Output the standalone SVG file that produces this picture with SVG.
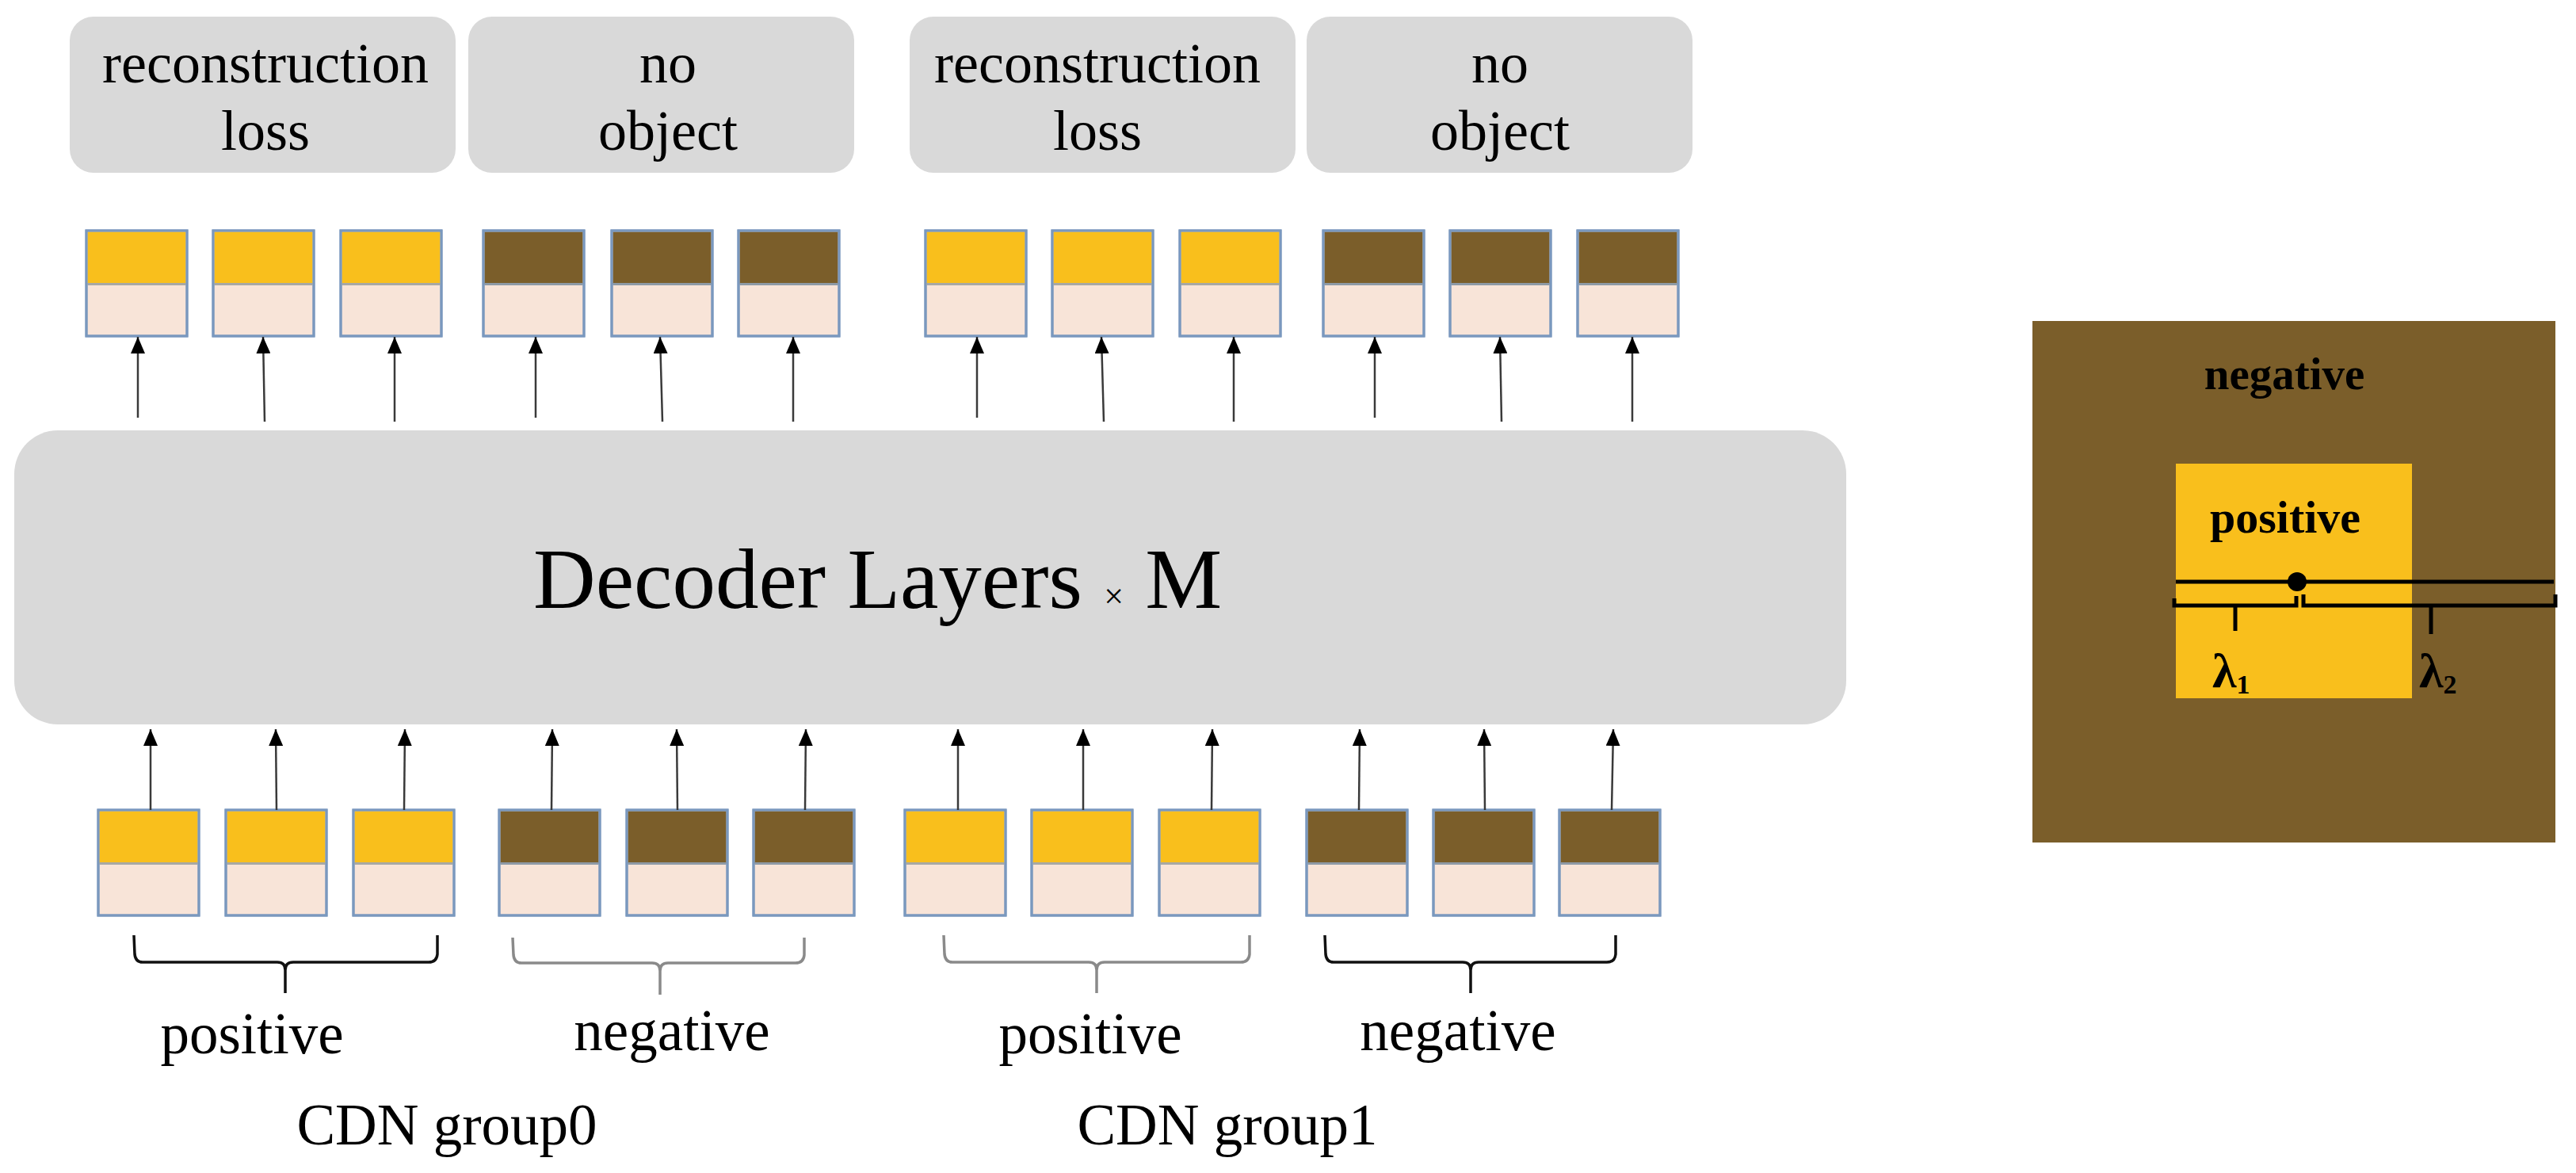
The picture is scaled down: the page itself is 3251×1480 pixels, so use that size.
<svg xmlns="http://www.w3.org/2000/svg" width="3251" height="1480" viewBox="0 0 3251 1480">
<style>
.box{fill:#D9D9D9;}
.t{font-family:"Liberation Serif","Times New Roman",serif;fill:#000;}
.lbl{font-size:72px;text-anchor:middle;}
.sub{font-size:73px;text-anchor:middle;}
.tok{stroke:#7A98BE;stroke-width:3;}
.yel{fill:#F9BF1C;}
.brn{fill:#7B5E2A;}
.pink{fill:#F8E4D8;}
.div{stroke:#A8A8A4;stroke-width:3;}
.arr{stroke:#3A3A3A;stroke-width:2.5;fill:none;marker-end:url(#ah);}
.brace{fill:none;stroke-width:3.5;stroke-linejoin:round;}
.bk{stroke:#111;}
.gy{stroke:#8A8A8A;}
.bold{font-weight:bold;}
</style>
<defs>
<marker id="ah" markerUnits="userSpaceOnUse" markerWidth="21" markerHeight="18" viewBox="0 0 21 18" refX="21" refY="9" orient="auto">
<path d="M0,0 L21,9 L0,18 z" fill="#000"/>
</marker>
<g id="tokY">
<rect x="0" y="0" width="127" height="133" class="pink tok"/>
<rect x="1.5" y="1.5" width="124" height="66" class="yel"/>
<line x1="1.5" y1="67.5" x2="125.5" y2="67.5" class="div"/>
<rect x="0" y="0" width="127" height="133" fill="none" class="tok"/>
</g>
<g id="tokB">
<rect x="0" y="0" width="127" height="133" class="pink tok"/>
<rect x="1.5" y="1.5" width="124" height="66" class="brn"/>
<line x1="1.5" y1="67.5" x2="125.5" y2="67.5" stroke="#8E9AA6" stroke-width="3"/>
<rect x="0" y="0" width="127" height="133" fill="none" class="tok"/>
</g>
</defs>
<rect width="3251" height="1480" fill="#FFFFFF"/>

<g id="loss0">
<rect x="88" y="21" width="487" height="197" rx="30" class="box"/>
<text class="t lbl" x="335" y="104">reconstruction</text>
<text class="t lbl" x="335" y="189">loss</text>
</g>
<g id="noobj0">
<rect x="591" y="21" width="487" height="197" rx="30" class="box"/>
<text class="t lbl" x="843" y="104">no</text>
<text class="t lbl" x="843" y="189">object</text>
</g>
<g id="loss1">
<rect x="1148" y="21" width="487" height="197" rx="30" class="box"/>
<text class="t lbl" x="1385" y="104">reconstruction</text>
<text class="t lbl" x="1385" y="189">loss</text>
</g>
<g id="noobj1">
<rect x="1649" y="21" width="487" height="197" rx="30" class="box"/>
<text class="t lbl" x="1893" y="104">no</text>
<text class="t lbl" x="1893" y="189">object</text>
</g>

<g id="out-tokens">
<use href="#tokY" x="109" y="291"/>
<use href="#tokY" x="269" y="291"/>
<use href="#tokY" x="430" y="291"/>
<use href="#tokB" x="610" y="291"/>
<use href="#tokB" x="772" y="291"/>
<use href="#tokB" x="932" y="291"/>
<use href="#tokY" x="1168" y="291"/>
<use href="#tokY" x="1328" y="291"/>
<use href="#tokY" x="1489" y="291"/>
<use href="#tokB" x="1670" y="291"/>
<use href="#tokB" x="1830" y="291"/>
<use href="#tokB" x="1991" y="291"/>
</g>

<g id="decoder">
<rect x="18" y="543" width="2312" height="371" rx="55" class="box"/>
<text class="t" x="673" y="767" font-size="109">Decoder Layers <tspan font-size="44">×</tspan> M</text>
</g>

<g id="in-tokens">
<use href="#tokY" x="124" y="1022"/>
<use href="#tokY" x="285" y="1022"/>
<use href="#tokY" x="446" y="1022"/>
<use href="#tokB" x="630" y="1022"/>
<use href="#tokB" x="791" y="1022"/>
<use href="#tokB" x="951" y="1022"/>
<use href="#tokY" x="1142" y="1022"/>
<use href="#tokY" x="1302" y="1022"/>
<use href="#tokY" x="1463" y="1022"/>
<use href="#tokB" x="1649" y="1022"/>
<use href="#tokB" x="1809" y="1022"/>
<use href="#tokB" x="1968" y="1022"/>
</g>

<g id="connectors">
<line class="arr" x1="174" y1="527" x2="174" y2="425"/>
<line class="arr" x1="334" y1="532" x2="332" y2="425"/>
<line class="arr" x1="498" y1="532" x2="498" y2="425"/>
<line class="arr" x1="676" y1="527" x2="676" y2="425"/>
<line class="arr" x1="836" y1="532" x2="833" y2="425"/>
<line class="arr" x1="1001" y1="532" x2="1001" y2="425"/>
<line class="arr" x1="1233" y1="527" x2="1233" y2="425"/>
<line class="arr" x1="1393" y1="532" x2="1390" y2="425"/>
<line class="arr" x1="1557" y1="532" x2="1557" y2="425"/>
<line class="arr" x1="1735" y1="527" x2="1735" y2="425"/>
<line class="arr" x1="1895" y1="532" x2="1893" y2="425"/>
<line class="arr" x1="2060" y1="532" x2="2060" y2="425"/>

<line class="arr" x1="190" y1="1022" x2="190" y2="920"/>
<line class="arr" x1="349" y1="1022" x2="348" y2="920"/>
<line class="arr" x1="510" y1="1022" x2="511" y2="920"/>
<line class="arr" x1="696" y1="1022" x2="697" y2="920"/>
<line class="arr" x1="855" y1="1022" x2="854" y2="920"/>
<line class="arr" x1="1016" y1="1022" x2="1017" y2="920"/>
<line class="arr" x1="1209" y1="1022" x2="1209" y2="920"/>
<line class="arr" x1="1367" y1="1022" x2="1367" y2="920"/>
<line class="arr" x1="1529" y1="1022" x2="1530" y2="920"/>
<line class="arr" x1="1715" y1="1022" x2="1716" y2="920"/>
<line class="arr" x1="1874" y1="1022" x2="1873" y2="920"/>
<line class="arr" x1="2034" y1="1022" x2="2036" y2="920"/>
</g>

<g id="braces">
<path class="brace bk" d="M169,1180 L170,1204 Q171,1214 180,1214 L350,1214 Q360,1214 360,1224 L360,1253 M360,1224 Q360,1214 370,1214 L541,1214 Q551,1214 552,1204 L552,1180"/>
<path class="brace gy" d="M647,1183 L648,1205 Q649,1215 658,1215 L823,1215 Q833,1215 833,1225 L833,1255 M833,1225 Q833,1215 843,1215 L1004,1215 Q1014,1215 1015,1205 L1015,1183"/>
<path class="brace gy" d="M1191,1180 L1192,1204 Q1193,1214 1202,1214 L1374,1214 Q1384,1214 1384,1224 L1384,1253 M1384,1224 Q1384,1214 1394,1214 L1566,1214 Q1576,1214 1577,1204 L1577,1180"/>
<path class="brace bk" d="M1672,1180 L1673,1204 Q1674,1214 1683,1214 L1846,1214 Q1856,1214 1856,1224 L1856,1253 M1856,1224 Q1856,1214 1866,1214 L2028,1214 Q2038,1214 2039,1204 L2039,1180"/>
</g>

<g id="labels">
<text class="t sub" x="318" y="1329">positive</text>
<text class="t sub" x="848" y="1325">negative</text>
<text class="t sub" x="1376" y="1329">positive</text>
<text class="t sub" x="1840" y="1325">negative</text>
<text class="t sub" x="564" y="1444">CDN group0</text>
<text class="t sub" x="1549" y="1444">CDN group1</text>
</g>

<g id="panel">
<rect x="2565" y="405" width="660" height="658" class="brn"/>
<rect x="2746" y="585" width="298" height="296" class="yel"/>
<text class="t bold" x="2883" y="491" font-size="57" text-anchor="middle">negative</text>
<text class="t bold" x="2884" y="672" font-size="58" text-anchor="middle">positive</text>
<line x1="2746" y1="734" x2="3223" y2="734" stroke="#000" stroke-width="5"/>
<circle cx="2899" cy="734" r="12" fill="#000"/>
<path d="M2744,755 L2744,764 L2898,764 L2898,752" fill="none" stroke="#000" stroke-width="5"/>
<path d="M2907,750 L2907,764 L3225,764 L3225,750" fill="none" stroke="#000" stroke-width="5"/>
<line x1="2821" y1="766" x2="2821" y2="796" stroke="#000" stroke-width="5"/>
<line x1="3068" y1="766" x2="3068" y2="800" stroke="#000" stroke-width="5"/>
<text class="t bold" x="2792" y="867" font-size="62">λ<tspan font-size="34" dy="8">1</tspan></text>
<text class="t bold" x="3053" y="867" font-size="62">λ<tspan font-size="34" dy="8">2</tspan></text>
</g>
</svg>
